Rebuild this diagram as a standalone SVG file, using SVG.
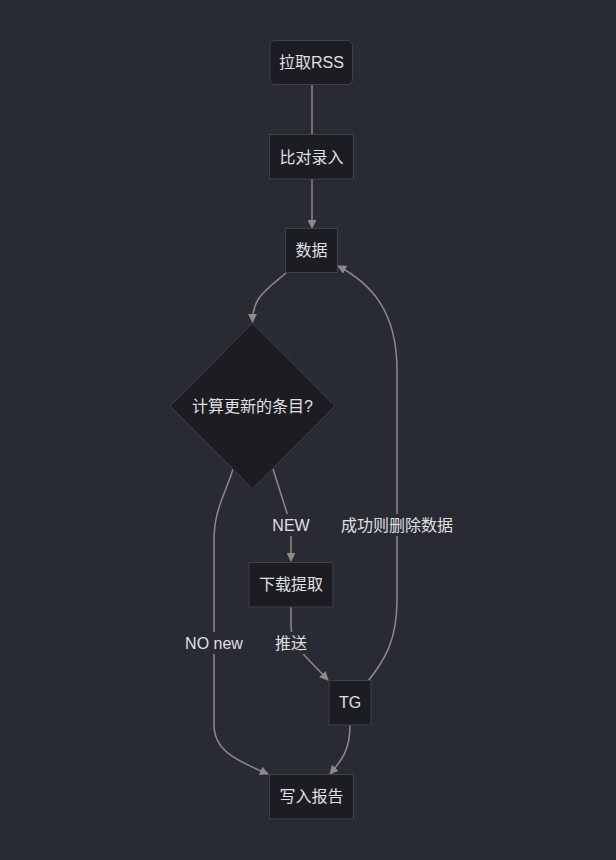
<svg xmlns="http://www.w3.org/2000/svg" width="616" height="860" viewBox="0 0 616 860">
<defs>
<style>
.node rect,.node polygon{fill:#1b1d23;stroke:#3d424d;stroke-width:1}
.lbl{font-family:"Liberation Sans","Noto Sans CJK SC",sans-serif;font-size:16px;fill:#e0e0e0;text-anchor:middle;dominant-baseline:central}
.edge{fill:none;stroke:#8a8a8a;stroke-width:1.5}
.elbl rect{fill:#282b33}
</style>
<marker id="arr" viewBox="0 0 10 10" refX="9" refY="5" markerWidth="9" markerHeight="9" markerUnits="userSpaceOnUse" orient="auto">
<path d="M0,0 L10,5 L0,10 z" fill="#8a8a8a"/>
</marker>
</defs>
<rect width="616" height="860" fill="#282b33"/>
<g id="connectors">
<path class="edge" d="M312,85 L312,134"/>
<path class="edge" d="M312,179 L312,228" marker-end="url(#arr)"/>
<path class="edge" d="M286,273 C266,290 252.5,297 252.5,322" marker-end="url(#arr)"/>
<path class="edge" d="M273,469 L287,513 Q291,525 291,537 L291,561" marker-end="url(#arr)"/>
<path class="edge" d="M233,469 C225,495 214,510 214,540 L214,725 C214,750 235,760 268,774" marker-end="url(#arr)"/>
<path class="edge" d="M291,607 L291,625 C291,640 298,648 305,656 L328,680" marker-end="url(#arr)"/>
<path class="edge" d="M350,725 C350,750 342,760 330,774" marker-end="url(#arr)"/>
<path class="edge" d="M368,681 C385,660 397,640 397,600 L397,370 C397,310 370,283 338,266" marker-end="url(#arr)"/>
<g class="elbl">
<rect x="271" y="514" width="40" height="22"/><text class="lbl" x="291" y="525">NEW</text>
<rect x="340" y="514" width="114" height="22"/><text class="lbl" x="397" y="525">成功则删除数据</text>
<rect x="183" y="632" width="62" height="22"/><text class="lbl" x="214" y="643">NO new</text>
<rect x="275" y="632" width="33" height="22"/><text class="lbl" x="291" y="643">推送</text>
</g>
</g>
<g id="n_rss" class="node"><rect x="270" y="40.5" width="82.5" height="44" rx="5"/><text class="lbl" x="311.5" y="62.5">拉取RSS</text></g>
<g id="n_cmp" class="node"><rect x="269.5" y="134.5" width="84" height="44.5"/><text class="lbl" x="311.5" y="157">比对录入</text></g>
<g id="n_data" class="node"><rect x="285.5" y="228.5" width="52" height="44"/><text class="lbl" x="311.5" y="250.5">数据</text></g>
<g id="n_dec" class="node"><polygon points="252.5,323 335,406 252.5,489 170,406"/><text class="lbl" x="252.5" y="406">计算更新的条目?</text></g>
<g id="n_dl" class="node"><rect x="249" y="562.5" width="84" height="44.5"/><text class="lbl" x="291" y="584.5">下载提取</text></g>
<g id="n_tg" class="node"><rect x="329" y="680.5" width="42" height="44.5"/><text class="lbl" x="350" y="702.5">TG</text></g>
<g id="n_rep" class="node"><rect x="269.5" y="774.5" width="84" height="44.5"/><text class="lbl" x="311.5" y="796.5">写入报告</text></g>
</svg>
